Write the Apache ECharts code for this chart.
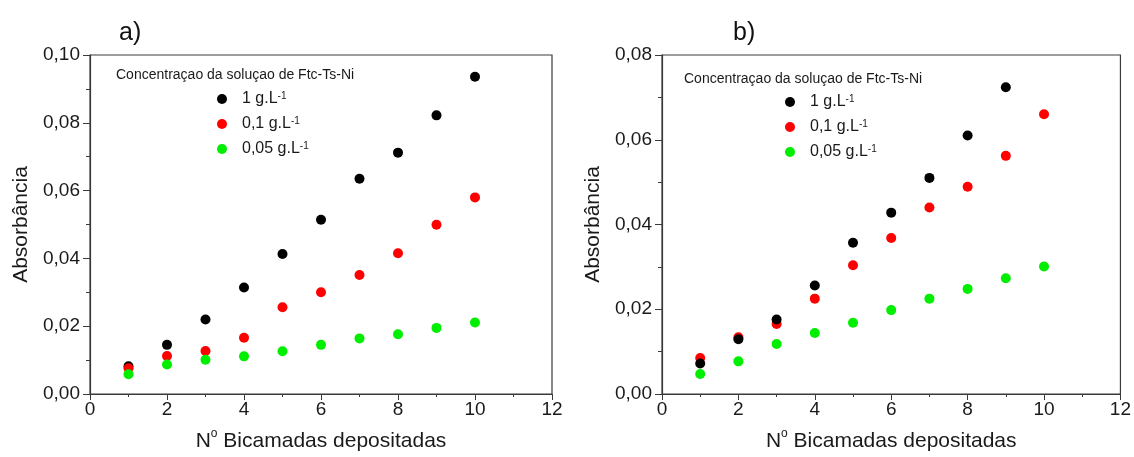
<!DOCTYPE html>
<html>
<head>
<meta charset="utf-8">
<script src="https://cdn.jsdelivr.net/npm/echarts@6/dist/echarts.min.js"></script>
<style>
  html, body { margin: 0; padding: 0; background: #fff; }
  #chart { width: 1134px; height: 457px; }
</style>
</head>
<body>
<div id="chart"></div>
<script>
// Number of deposited bilayers
var layers = [1, 2, 3, 4, 5, 6, 7, 8, 9, 10];

// Panel a) absorbance per concentration
var a_1g   = [0.0082, 0.0145, 0.0220, 0.0314, 0.0413, 0.0514, 0.0635, 0.0712, 0.0822, 0.0936];
var a_01g  = [0.0076, 0.0112, 0.0127, 0.0166, 0.0256, 0.0300, 0.0351, 0.0415, 0.0499, 0.0580];
var a_005g = [0.0058, 0.0087, 0.0101, 0.0111, 0.0126, 0.0145, 0.0164, 0.0176, 0.0195, 0.0211];

// Panel b) absorbance per concentration (1 g/L measured up to 9 bilayers)
var b_1g   = [0.0072, 0.0129, 0.0176, 0.0256, 0.0357, 0.0428, 0.0510, 0.0610, 0.0724];
var b_01g  = [0.0085, 0.0134, 0.0165, 0.0225, 0.0304, 0.0368, 0.0440, 0.0489, 0.0562, 0.0660];
var b_005g = [0.0047, 0.0077, 0.0118, 0.0144, 0.0168, 0.0198, 0.0225, 0.0248, 0.0273, 0.0301];

var seriesNames = ['1 g.L-1', '0,1 g.L-1', '0,05 g.L-1'];
var legendLabels = {
  '1 g.L-1': '{n|1 g.L}{s|-1}',
  '0,1 g.L-1': '{n|0,1 g.L}{s|-1}',
  '0,05 g.L-1': '{n|0,05 g.L}{s|-1}'
};
var colors = { '1 g.L-1': '#000000', '0,1 g.L-1': '#ff0000', '0,05 g.L-1': '#00ee00' };

var panelTitles = ['a)', 'b)'];
var legendTitle = 'Concentraçao da soluçao de Ftc-Ts-Ni';
var yTitle = 'Absorbância';
var xTicks = { min: 0, max: 12, interval: 2 };
var yMaxA = 0.10, yMaxB = 0.08, yStep = 0.02;

var FONT = "'Liberation Sans', Arial, sans-serif";
var AX = '#3a3a3a';

function pairs(ys) {
  return ys.map(function (y, i) { return [layers[i], y]; });
}

function xAxisCfg(gridIndex) {
  return {
    gridIndex: gridIndex, type: 'value',
    min: xTicks.min, max: xTicks.max, interval: xTicks.interval,
    name: '{n|N}{s|o}{n| Bicamadas depositadas}',
    nameLocation: 'middle', nameGap: 34,
    nameTextStyle: {
      rich: {
        n: { fontFamily: FONT, fontSize: 21, color: '#1a1a1a', lineHeight: 24, verticalAlign: 'bottom' },
        s: { fontFamily: FONT, fontSize: 12, color: '#1a1a1a', lineHeight: 12, verticalAlign: 'top' }
      }
    },
    axisLine: { show: true, onZero: false, lineStyle: { color: AX, width: 1.2 } },
    axisTick: { show: true, inside: false, length: 6, lineStyle: { color: AX } },
    minorTick: { show: true, splitNumber: 2, length: 3, lineStyle: { color: AX } },
    splitLine: { show: false },
    axisLabel: { margin: 6, fontFamily: FONT, fontSize: 19, color: '#1a1a1a' }
  };
}

function yAxisCfg(gridIndex, max) {
  return {
    gridIndex: gridIndex, type: 'value',
    min: 0, max: max, interval: yStep,
    name: yTitle, nameLocation: 'middle', nameGap: 58,
    nameTextStyle: { fontFamily: FONT, fontSize: 21, color: '#1a1a1a' },
    axisLine: { show: true, onZero: false, lineStyle: { color: AX, width: 1.2 } },
    axisTick: { show: true, inside: false, length: 7, lineStyle: { color: AX } },
    minorTick: { show: true, splitNumber: 2, length: 4, lineStyle: { color: AX } },
    splitLine: { show: false },
    axisLabel: {
      margin: 10, fontFamily: FONT, fontSize: 19, color: '#1a1a1a',
      formatter: function (v) { return v.toFixed(2).replace('.', ','); }
    }
  };
}

function scatter(name, data, idx, z) {
  return {
    name: name, type: 'scatter',
    xAxisIndex: idx, yAxisIndex: idx,
    data: pairs(data), symbol: 'circle', symbolSize: 10, z: z,
    itemStyle: { color: colors[name], opacity: 1 }
  };
}

function legendCfg(left, top) {
  return {
    orient: 'vertical', left: left, top: top,
    data: seriesNames, icon: 'circle',
    itemWidth: 10, itemHeight: 10, itemGap: 9,
    selectedMode: false,
    formatter: function (name) { return legendLabels[name]; },
    textStyle: {
      padding: [0, 0, 0, 10],
      rich: {
        n: { fontFamily: FONT, fontSize: 16, color: '#1a1a1a', lineHeight: 16, verticalAlign: 'bottom' },
        s: { fontFamily: FONT, fontSize: 10, color: '#1a1a1a', lineHeight: 9, verticalAlign: 'top' }
      }
    }
  };
}

var chart = echarts.init(document.getElementById('chart'), null, { renderer: 'canvas' });
chart.setOption({
  backgroundColor: '#ffffff',
  animation: false,
  title: [
    { text: panelTitles[0], left: 114, top: 16, textStyle: { fontFamily: FONT, fontSize: 25, fontWeight: 'normal', color: '#111' } },
    { text: panelTitles[1], left: 728, top: 16, textStyle: { fontFamily: FONT, fontSize: 25, fontWeight: 'normal', color: '#111' } },
    { text: legendTitle, left: 111, top: 63, textStyle: { fontFamily: FONT, fontSize: 14, fontWeight: 'normal', color: '#1a1a1a' } },
    { text: legendTitle, left: 679, top: 67, textStyle: { fontFamily: FONT, fontSize: 14, fontWeight: 'normal', color: '#1a1a1a' } }
  ],
  legend: [legendCfg(212, 86), legendCfg(780, 89)],
  grid: [
    { left: 90, top: 55, width: 462, height: 343, show: true, borderColor: AX, borderWidth: 1.2, backgroundColor: '#fff' },
    { left: 662, top: 55, width: 463, height: 343, show: true, borderColor: AX, borderWidth: 1.2, backgroundColor: '#fff' }
  ],
  xAxis: [xAxisCfg(0), xAxisCfg(1)],
  yAxis: [yAxisCfg(0, yMaxA), yAxisCfg(1, yMaxB)],
  series: [
    scatter(seriesNames[0], a_1g, 0, 2),
    scatter(seriesNames[1], a_01g, 0, 3),
    scatter(seriesNames[2], a_005g, 0, 4),
    scatter(seriesNames[0], b_1g, 1, 5),
    scatter(seriesNames[1], b_01g, 1, 3),
    scatter(seriesNames[2], b_005g, 1, 4)
  ]
});
</script>
</body>
</html>
